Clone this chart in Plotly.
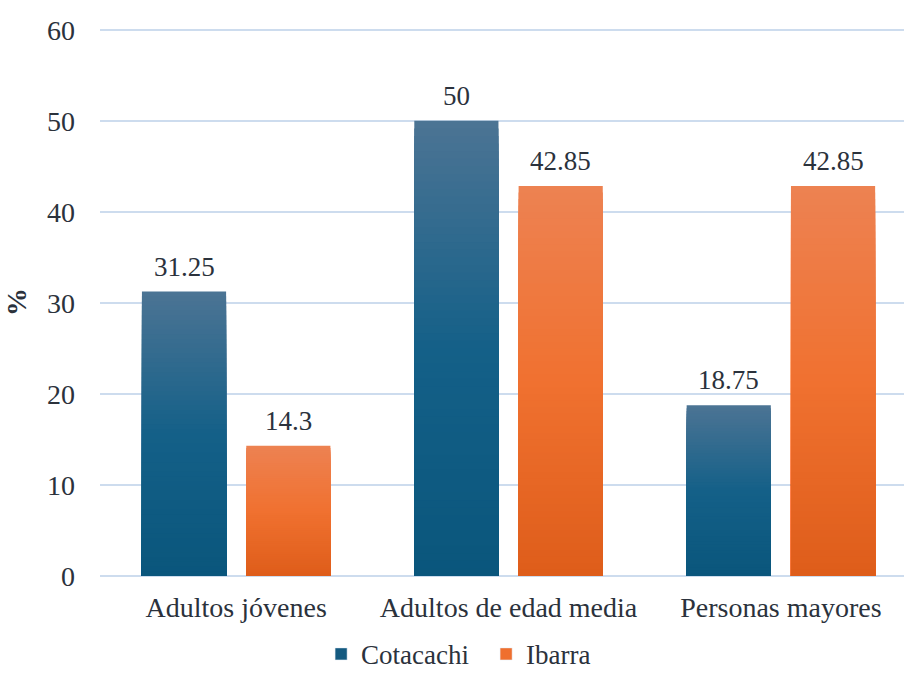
import plotly.graph_objects as go

# Age groups and share (%) per city
categories = ["Adultos jóvenes", "Adultos de edad media", "Personas mayores"]
cotacachi = [31.25, 50, 18.75]
ibarra = [14.3, 42.85, 42.85]
labels_cotacachi = ["31.25", "50", "18.75"]
labels_ibarra = ["14.3", "42.85", "42.85"]
y_ticks = [0, 10, 20, 30, 40, 50, 60]

FONT = "Liberation Serif"
TEXT = "#2b323c"

W, H = 904, 675
M_L, M_R, M_T, M_B = 100, 0, 28, 99
X_RANGE = [-0.5, 2.452]
BAR_W = 0.309
N_SEG = 60

# gradient stops (top, middle, bottom) for each series
series = [
    dict(name="Cotacachi", values=cotacachi, labels=labels_cotacachi,
         stops=[(76, 116, 148), (20, 96, 136), (10, 86, 124)],
         solid="#145a80", offset=-0.346),
    dict(name="Ibarra", values=ibarra, labels=labels_ibarra,
         stops=[(237, 130, 82), (240, 113, 48), (222, 93, 26)],
         solid="#ef6f2e", offset=0.037),
]

px_per_cat = (W - M_L - M_R) / (X_RANGE[1] - X_RANGE[0])


def lerp(a, b, t):
    return tuple(round(a[k] + (b[k] - a[k]) * t) for k in range(3))


def grad_color(stops, t):
    # t = 0 at the bottom of a bar, 1 at the top
    top, mid, bot = stops
    if t < 0.5:
        c = lerp(bot, mid, t / 0.5)
    else:
        c = lerp(mid, top, (t - 0.5) / 0.5)
    return "rgb(%d,%d,%d)" % c


fig = go.Figure()
annotations = []

for s in series:
    vals = s["values"]
    # nested bars, tallest first, so each bar shows a seamless vertical gradient
    for i in range(N_SEG, 0, -1):
        frac = i / N_SEG
        t = (i - 0.5) / N_SEG
        fig.add_trace(go.Bar(
            x=categories,
            y=[v * frac for v in vals],
            width=BAR_W, offset=s["offset"],
            marker=dict(color=grad_color(s["stops"], t), line=dict(width=0)),
            showlegend=False, hoverinfo="skip",
        ))
    # legend entry
    fig.add_trace(go.Bar(
        x=[None], y=[None], name=s["name"],
        marker=dict(color=s["solid"]), showlegend=True,
    ))
    # value labels above each bar
    shift = (s["offset"] + BAR_W / 2) * px_per_cat
    for cat, v, lab in zip(categories, vals, s["labels"]):
        annotations.append(dict(
            x=cat, y=v, xref="x", yref="y", text=lab, showarrow=False,
            xanchor="center", yanchor="bottom", xshift=shift, yshift=8,
            font=dict(family=FONT, size=27, color=TEXT),
        ))

fig.update_layout(
    width=W, height=H,
    margin=dict(l=M_L, r=M_R, t=M_T, b=M_B, autoexpand=False),
    barmode="overlay",
    plot_bgcolor="white", paper_bgcolor="white",
    font=dict(family=FONT, size=28, color=TEXT),
    annotations=annotations,
    legend=dict(
        orientation="h", x=0.275, y=-0.143, xanchor="left", yanchor="middle",
        font=dict(family=FONT, size=27, color=TEXT),
        itemwidth=30, entrywidth=120, traceorder="normal",
        borderwidth=0, bgcolor="rgba(0,0,0,0)",
    ),
    xaxis=dict(
        type="category", range=X_RANGE, automargin=False,
        showgrid=False, showline=False, ticks="", ticklabelstandoff=12,
        tickfont=dict(family=FONT, size=28, color=TEXT),
    ),
    yaxis=dict(
        range=[0, 60.2], tickvals=y_ticks, automargin=False,
        showgrid=True, gridcolor="#cddcee", gridwidth=2,
        zeroline=True, zerolinecolor="#cddcee", zerolinewidth=2,
        showline=False, ticks="", ticklabelstandoff=24,
        tickfont=dict(family=FONT, size=28, color=TEXT),
        title=dict(text="<b>%</b>", standoff=12,
                   font=dict(family=FONT, size=28, color=TEXT)),
    ),
)

fig.write_html("out.html")
